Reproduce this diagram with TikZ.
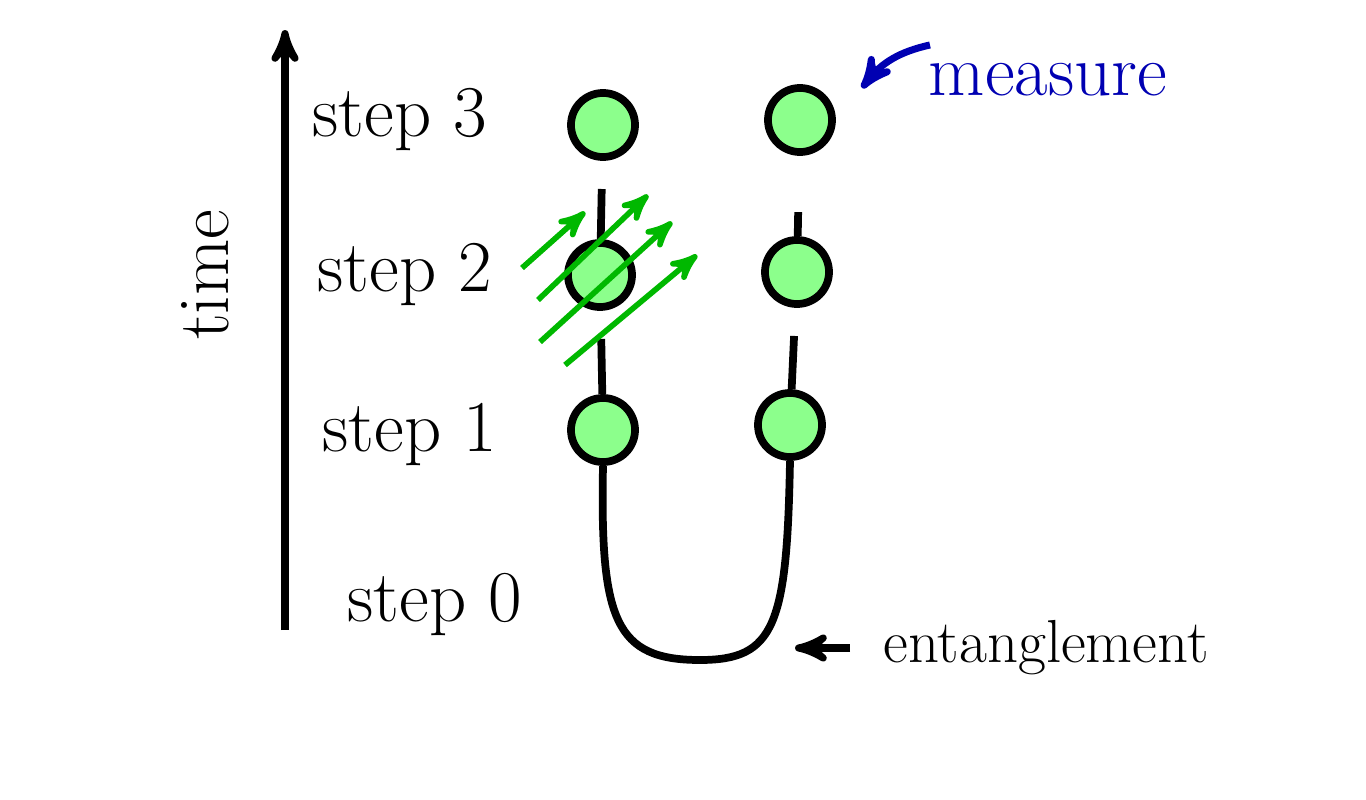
\documentclass[tikz,border=0pt]{standalone}
\usepackage{tikz}
\usetikzlibrary{arrows,positioning,calc}

\begin{document}
\begin{tikzpicture}[
        x=0.01cm, y=-0.01cm,
        qubit/.style={circle, draw=black, line width=2.2pt, fill=green!45!white,
            minimum size=0.64cm, inner sep=0pt},
        wire/.style={black, line width=2.2pt},
        axis/.style={line width=2pt, ->, >=stealth', line join=miter},
        beam/.style={green!60!black!70!green, line width=1.6pt, ->, >=stealth'},
        lbl/.style={font=\huge, color=black},
    ]
    \useasboundingbox (0,0) rectangle (1366,800);
    % time axis
    \draw[axis] (285,630) coordinate (t0) -- (285,30) coordinate (t1);
    \node[lbl, rotate=90] (time) at (205,275) {time};
    % step labels
    \node[lbl] (s3) at (400,120) {step 3};
    \node[lbl] (s2) at (405,275) {step 2};
    \node[lbl] (s1) at (410,435) {step 1};
    \node[lbl] (s0) at (435,605) {step 0};
    % qubits
    \node[qubit] (a3) at (603,125) {};
    \node[qubit] (a2) at (600,275) {};
    \node[qubit] (a1) at (603,430) {};
    \node[qubit] (b3) at (800,120) {};
    \node[qubit] (b2) at (797,272) {};
    \node[qubit] (b1) at (790,425) {};
    \draw[wire, shorten <=8pt] (a3) -- (a2);
    \draw[wire, shorten <=8pt] (a2) -- (a1);
    \draw[wire, shorten <=16pt] (b3) -- (b2);
    \draw[wire, shorten <=8pt] (b2) -- (b1);
    \draw[wire] (a1.south) .. controls (600,620) and (615,660) .. (700,660)
        .. controls (775,660) and (787,625) .. (b1.south);
    % field on step 2
    \draw[beam] (522,268) -- (585,212);
    \draw[beam] (538,300) -- (648,195);
    \draw[beam] (540,342) -- (672,222);
    \draw[beam] (565,365) -- (697,255);
    % annotations
    \coordinate (e0) at (850,648);
    \draw[axis] (e0) -- (795,648);
    \node[font=\LARGE, right=6pt of e0] (ent) {entanglement};
    \coordinate (m0) at (930,45);
    \draw[blue!70!black, line width=2pt, ->, >=stealth'] (m0) to[bend right=20] (862,88);
    \node[font=\huge, color=blue!70!black] (meas) at (1048,80) {measure};
\end{tikzpicture}
\end{document}
